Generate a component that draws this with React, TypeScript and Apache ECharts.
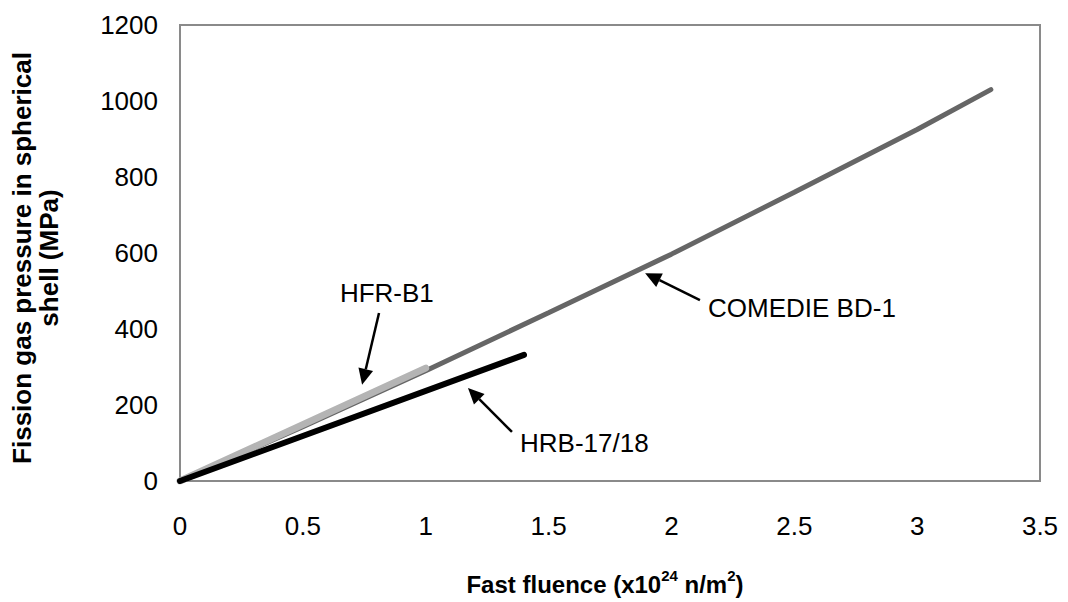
import React, { useEffect, useRef } from "react";
import * as echarts from "echarts";

// ---- data ----
const comedieX = [0, 0.5, 1.0, 1.5, 2.0, 2.5, 3.0, 3.3];
const comedieY = [0, 143, 290, 443, 597, 760, 925, 1030];
const hfrX = [0, 1.0];
const hfrY = [0, 297];
const hrbX = [0, 1.4];
const hrbY = [0, 332];

const xMin = 0, xMax = 3.5, xStep = 0.5;
const yMin = 0, yMax = 1200, yStep = 200;

const annLabels = ["HFR-B1", "HRB-17/18", "COMEDIE BD-1"];
const annLabelPos = [[0.842, 495], [1.384, 100], [2.149, 455]];
const annLabelAlign = ["center", "left", "left"];
const annTail = [[0.81, 442], [1.351, 129], [2.116, 476]];
const annTip = [[0.741, 253], [1.172, 245], [1.893, 547]];

const FONT = "'Liberation Sans', Arial, sans-serif";

const zip = (xs: number[], ys: number[]) => xs.map((x, i) => [x, ys[i]]);

export default function App() {
  const ref = useRef<HTMLDivElement>(null);
  useEffect(() => {
    document.body.style.margin = "0";
    const chart = echarts.init(ref.current!, null, { renderer: "svg" });
    chart.setOption({
      animation: false,
      backgroundColor: "#fff",
      grid: {
        left: 180, right: 28, top: 25, bottom: 121,
        show: true, borderColor: "#8a8a8a", borderWidth: 2, backgroundColor: "transparent",
      },
      xAxis: {
        type: "value", min: xMin, max: xMax, interval: xStep,
        axisLine: { show: false }, axisTick: { show: false }, splitLine: { show: false },
        axisLabel: {
          color: "#000", fontSize: 26, fontFamily: FONT, margin: 32,
          formatter: (v: number) => String(v),
        },
      },
      yAxis: {
        type: "value", min: yMin, max: yMax, interval: yStep,
        axisLine: { show: false }, axisTick: { show: false }, splitLine: { show: false },
        axisLabel: {
          color: "#000", fontSize: 26, fontFamily: FONT, margin: 22,
          formatter: (v: number) => String(v),
        },
      },
      series: [
        {
          name: "COMEDIE BD-1", type: "line", data: zip(comedieX, comedieY), symbol: "none",
          lineStyle: { color: "#666", width: 5, cap: "round" }, z: 2,
        },
        {
          name: "HFR-B1", type: "line", data: zip(hfrX, hfrY), symbol: "none",
          lineStyle: { color: "#b4b4b4", width: 7, cap: "round" }, z: 3,
        },
        {
          name: "HRB-17/18", type: "line", data: zip(hrbX, hrbY), symbol: "none",
          lineStyle: { color: "#000", width: 6, cap: "round" }, z: 4,
        },
      ],
    });

    const toPx = (p: number[]) => chart.convertToPixel({ gridIndex: 0 }, p) as number[];
    const graphics: any[] = [];
    annLabels.forEach((label, i) => {
      const lp = toPx(annLabelPos[i]);
      const tail = toPx(annTail[i]);
      const tip = toPx(annTip[i]);
      const dx = tip[0] - tail[0], dy = tip[1] - tail[1];
      const len = Math.hypot(dx, dy);
      const ux = dx / len, uy = dy / len;
      const headL = 16, headW = 7.5;
      const bx = tip[0] - ux * headL, by = tip[1] - uy * headL;
      graphics.push({
        type: "text", x: lp[0], y: lp[1],
        style: {
          text: label, fill: "#000", font: `26px ${FONT}`,
          textAlign: annLabelAlign[i], textVerticalAlign: "middle",
        },
      });
      graphics.push({
        type: "line",
        shape: { x1: tail[0], y1: tail[1], x2: bx, y2: by },
        style: { stroke: "#000", lineWidth: 2.5 },
      });
      graphics.push({
        type: "polygon",
        shape: {
          points: [
            [tip[0], tip[1]],
            [bx - uy * headW, by + ux * headW],
            [bx + uy * headW, by - ux * headW],
          ],
        },
        style: { fill: "#000" },
      });
    });

    graphics.push({
      type: "text", x: 605, y: 582,
      style: {
        text: "{t|Fast fluence (x10}{s|24}{t| n/m}{s|2}{t|)}",
        textAlign: "center", textVerticalAlign: "middle",
        rich: {
          t: { font: `bold 24px ${FONT}`, fill: "#000", verticalAlign: "bottom" },
          s: { font: `bold 15px ${FONT}`, fill: "#000", verticalAlign: "top", padding: [0, 0, 14, 0] },
        },
      },
    });
    graphics.push({
      type: "text", x: 35, y: 258, rotation: Math.PI / 2,
      style: {
        text: "Fission gas pressure in spherical\nshell (MPa)",
        font: `bold 26px ${FONT}`, fill: "#000",
        textAlign: "center", textVerticalAlign: "middle", lineHeight: 27,
      },
    });
    chart.setOption({ graphic: graphics });

    return () => chart.dispose();
  }, []);
  return <div ref={ref} style={{ width: 1068, height: 602 }} />;
}
